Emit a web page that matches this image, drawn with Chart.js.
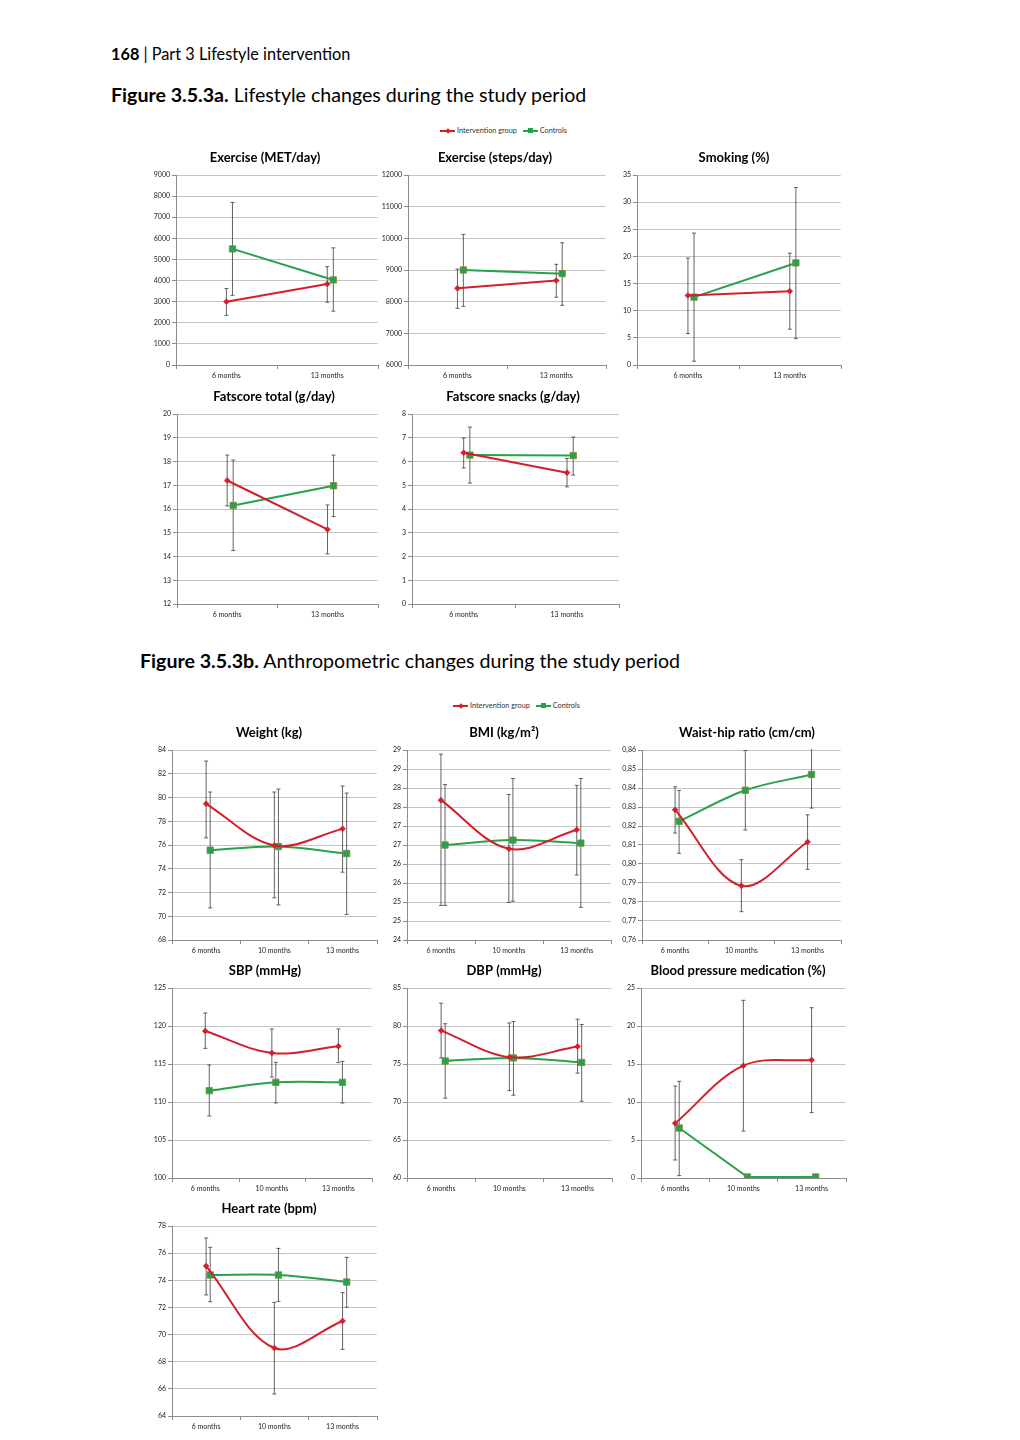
<!DOCTYPE html>
<html>
<head>
<meta charset="utf-8">
<script src="https://cdn.jsdelivr.net/npm/chart.js@4.4.1/dist/chart.umd.min.js"></script>
<style>
  body { margin: 0; background: #fff; }
  #page { position: relative; width: 1020px; height: 1440px; font-family: Lato, "Open Sans", sans-serif; color: #000; }
  .txt { position: absolute; white-space: nowrap; }
  .head { left: 111px; top: 44px; font-size: 16.3px; }
  .fig { font-size: 19.6px; }
  .legend { position: absolute; font-size: 7.3px; white-space: nowrap; color: #333; }
  .key { display: inline-block; position: relative; width: 15px; height: 2px; vertical-align: middle; margin: 0 2px 0 4px; }
  .key i { position: absolute; display: block; }
  .key.red { background: #d21f2b; }
  .key.red i { left: 5.5px; top: -1.5px; width: 4px; height: 4px; background: #d21f2b; transform: rotate(45deg); }
  .key.green { background: #27a24a; }
  .key.green i { left: 5px; top: -2px; width: 5px; height: 5px; background: #27a24a; }
  canvas { position: absolute; }
</style>
</head>
<body>
<div id="page">
  <div class="txt head"><b>168</b> | Part 3 Lifestyle intervention</div>
  <div class="txt fig" style="left:111px; top:83px"><b>Figure 3.5.3a.</b> Lifestyle changes during the study period</div>
  <div class="legend" style="left:436px; top:126px"><span class="key red"><i></i></span>Intervention group <span class="key green"><i></i></span>Controls</div>
  <div class="txt fig" style="left:140px; top:649px"><b>Figure 3.5.3b.</b> Anthropometric changes during the study period</div>
  <div class="legend" style="left:449px; top:701px"><span class="key red"><i></i></span>Intervention group <span class="key green"><i></i></span>Controls</div>
</div>
<script>
  // categories
  const monthsA = ["6 months", "13 months"];
  const monthsB = ["6 months", "10 months", "13 months"];

  // Figure 3.5.3a
  const metInt = [3000, 3840];
  const metIntLo = [2350, 2970];
  const metIntHi = [3620, 4660];
  const metCtl = [5500, 4030];
  const metCtlLo = [3300, 2550];
  const metCtlHi = [7700, 5550];

  const stepsInt = [8420, 8665];
  const stepsIntLo = [7790, 8140];
  const stepsIntHi = [9030, 9180];
  const stepsCtl = [9000, 8885];
  const stepsCtlLo = [7850, 7885];
  const stepsCtlHi = [10125, 9860];

  const smokInt = [12.8, 13.6];
  const smokIntLo = [5.8, 6.6];
  const smokIntHi = [19.7, 20.6];
  const smokCtl = [12.5, 18.8];
  const smokCtlLo = [0.7, 4.85];
  const smokCtlHi = [24.3, 32.7];

  const fatInt = [17.2, 15.14];
  const fatIntLo = [16.13, 14.11];
  const fatIntHi = [18.27, 16.17];
  const fatCtl = [16.15, 16.98];
  const fatCtlLo = [14.25, 15.68];
  const fatCtlHi = [18.06, 18.27];

  const snackInt = [6.37, 5.53];
  const snackIntLo = [5.73, 4.93];
  const snackIntHi = [6.99, 6.13];
  const snackCtl = [6.27, 6.25];
  const snackCtlLo = [5.09, 5.43];
  const snackCtlHi = [7.45, 7.03];

  // Figure 3.5.3b
  const wInt = [79.47, 75.96, 77.36];
  const wIntLo = [76.6, 71.55, 73.71];
  const wIntHi = [83.07, 80.46, 80.97];
  const wCtl = [75.56, 75.87, 75.28];
  const wCtlLo = [70.7, 70.95, 70.16];
  const wCtlHi = [80.46, 80.71, 80.37];

  const bmiInt = [27.68, 26.4, 26.9];
  const bmiIntLo = [24.91, 24.99, 25.71];
  const bmiIntHi = [28.89, 27.83, 28.07];
  const bmiCtl = [26.5, 26.63, 26.55];
  const bmiCtlLo = [24.91, 25.02, 24.86];
  const bmiCtlHi = [28.09, 28.25, 28.25];

  const whrInt = [0.8285, 0.7885, 0.8116];
  const whrIntLo = [0.8163, 0.7749, 0.7972];
  const whrIntHi = [0.8406, 0.8023, 0.8259];
  const whrCtl = [0.8224, 0.8388, 0.8471];
  const whrCtlLo = [0.8056, 0.8179, 0.8294];
  const whrCtlHi = [0.8387, 0.8597, 0.8648];

  const sbpInt = [119.34, 116.45, 117.32];
  const sbpIntLo = [117.06, 113.29, 115.18];
  const sbpIntHi = [121.71, 119.61, 119.61];
  const sbpCtl = [111.49, 112.59, 112.59];
  const sbpCtlLo = [108.16, 109.87, 109.87];
  const sbpCtlHi = [114.87, 115.22, 115.35];

  const dbpInt = [79.4, 75.9, 77.3];
  const dbpIntLo = [75.8, 71.5, 73.8];
  const dbpIntHi = [83.0, 80.4, 80.9];
  const dbpCtl = [75.4, 75.8, 75.2];
  const dbpCtlLo = [70.5, 70.9, 70.1];
  const dbpCtlHi = [80.3, 80.6, 80.2];

  const medInt = [7.19, 14.78, 15.53];
  const medIntLo = [2.37, 6.18, 8.6];
  const medIntHi = [12.1, 23.38, 22.41];
  const medCtl = [6.58, 0.13, 0.13];
  const medCtlLo = [0.31, 0.13, 0.13];
  const medCtlHi = [12.72, 0.13, 0.13];

  const hrInt = [75.05, 69.01, 71.0];
  const hrIntLo = [72.92, 65.62, 68.91];
  const hrIntHi = [77.12, 72.37, 73.09];
  const hrCtl = [74.39, 74.39, 73.87];
  const hrCtlLo = [72.42, 72.45, 72.01];
  const hrCtlHi = [76.43, 76.35, 75.69];

  const RED = "#d21f2b";
  const GREEN = "#27a24a";
  const FONT = "Lato, 'Open Sans', sans-serif";
  const Y_W = 40, TOP_H = 28, X_H = 20;

  const fmtInt = (v) => String(Math.round(v));
  const fmtComma = (v) => v.toFixed(2).replace(".", ",");

  // box = plot area on the page: left, top, right, bottom; tx = title centre
  const panels = [
    { title: "Exercise (MET/day)", cats: monthsA, box: [176, 175, 379, 365], tx: 265, y: [0, 9000, 1000],
      int: [metInt, metIntLo, metIntHi], ctl: [metCtl, metCtlLo, metCtlHi] },
    { title: "Exercise (steps/day)", cats: monthsA, box: [408, 175, 607, 365], tx: 495, y: [6000, 12000, 1000],
      int: [stepsInt, stepsIntLo, stepsIntHi], ctl: [stepsCtl, stepsCtlLo, stepsCtlHi] },
    { title: "Smoking (%)", cats: monthsA, box: [637, 175, 842, 365], tx: 734, y: [0, 35, 5],
      int: [smokInt, smokIntLo, smokIntHi], ctl: [smokCtl, smokCtlLo, smokCtlHi] },
    { title: "Fatscore total (g/day)", cats: monthsA, box: [177, 414, 379, 604], tx: 274, y: [12, 20, 1],
      int: [fatInt, fatIntLo, fatIntHi], ctl: [fatCtl, fatCtlLo, fatCtlHi] },
    { title: "Fatscore snacks (g/day)", cats: monthsA, box: [412, 414, 620, 604], tx: 513, y: [0, 8, 1],
      int: [snackInt, snackIntLo, snackIntHi], ctl: [snackCtl, snackCtlLo, snackCtlHi] },

    { title: "Weight (kg)", cats: monthsB, box: [172, 750, 378, 940], tx: 269, y: [68, 84, 2], smooth: true,
      int: [wInt, wIntLo, wIntHi], ctl: [wCtl, wCtlLo, wCtlHi] },
    { title: "BMI (kg/m²)", cats: monthsB, box: [407, 750, 612, 940], tx: 504, y: [24, 29, 0.5], smooth: true,
      int: [bmiInt, bmiIntLo, bmiIntHi], ctl: [bmiCtl, bmiCtlLo, bmiCtlHi] },
    { title: "Waist-hip ratio (cm/cm)", cats: monthsB, box: [642, 750, 842, 940], tx: 747, y: [0.76, 0.86, 0.01], smooth: true,
      fmt: fmtComma, int: [whrInt, whrIntLo, whrIntHi], ctl: [whrCtl, whrCtlLo, whrCtlHi] },
    { title: "SBP (mmHg)", cats: monthsB, box: [172, 988, 373, 1178], tx: 265, y: [100, 125, 5], smooth: true,
      int: [sbpInt, sbpIntLo, sbpIntHi], ctl: [sbpCtl, sbpCtlLo, sbpCtlHi] },
    { title: "DBP (mmHg)", cats: monthsB, box: [407, 988, 613, 1178], tx: 504, y: [60, 85, 5], smooth: true,
      int: [dbpInt, dbpIntLo, dbpIntHi], ctl: [dbpCtl, dbpCtlLo, dbpCtlHi] },
    { title: "Blood pressure medication (%)", cats: monthsB, box: [641, 988, 847, 1178], tx: 738, y: [0, 25, 5], smooth: true,
      ctlStraight: true, int: [medInt, medIntLo, medIntHi], ctl: [medCtl, medCtlLo, medCtlHi] },
    { title: "Heart rate (bpm)", cats: monthsB, box: [172, 1226, 378, 1416], tx: 269, y: [64, 78, 2], smooth: true,
      int: [hrInt, hrIntLo, hrIntHi], ctl: [hrCtl, hrCtlLo, hrCtlHi] },
  ];

  // error bars, category boundary ticks and the panel title
  const errorBars = {
    id: "errorBars",
    beforeDatasetsDraw(chart) {
      const { ctx, chartArea, scales } = chart;
      ctx.save();
      ctx.beginPath();
      ctx.rect(chartArea.left, chartArea.top - 1, chartArea.width, chartArea.height + 2);
      ctx.clip();
      ctx.strokeStyle = "#3c3c3c";
      ctx.lineWidth = 0.8;
      chart.data.datasets.forEach((ds) => {
        ds.data.forEach((p, i) => {
          if (ds.lo[i] === ds.hi[i]) return;
          const x = scales.x.getPixelForValue(p.x);
          const y1 = scales.y.getPixelForValue(ds.lo[i]);
          const y2 = scales.y.getPixelForValue(ds.hi[i]);
          ctx.beginPath();
          ctx.moveTo(x, y1); ctx.lineTo(x, y2);
          ctx.moveTo(x - 2, y1); ctx.lineTo(x + 2, y1);
          ctx.moveTo(x - 2, y2); ctx.lineTo(x + 2, y2);
          ctx.stroke();
        });
      });
      ctx.restore();
    },
    afterDraw(chart) {
      const { ctx, chartArea, scales } = chart;
      const o = chart.config.options.plugins.errorBars;
      ctx.save();
      ctx.strokeStyle = "#8c8c8c";
      ctx.lineWidth = 1;
      ctx.beginPath();
      for (let k = 0; k <= o.n; k++) {
        const x = Math.round(scales.x.getPixelForValue(k + 0.5)) + 0.5;
        ctx.moveTo(x, chartArea.bottom);
        ctx.lineTo(x, chartArea.bottom + 4);
      }
      ctx.stroke();
      ctx.fillStyle = "#000";
      ctx.font = "bold 13px " + FONT;
      ctx.textAlign = "center";
      ctx.textBaseline = "middle";
      ctx.fillText(o.title, o.titleX, chartArea.top - 17);
      ctx.restore();
    },
  };

  const pts = (vals, off) => vals.map((v, i) => ({ x: i + 1 + off, y: v }));

  function makePanel(p) {
    const n = p.cats.length;
    const canvas = document.createElement("canvas");
    const rPad = Math.max(4, 2 * (p.tx - p.box[2]) + 110);
    const W = p.box[2] - p.box[0] + Y_W + rPad;
    const H = p.box[3] - p.box[1] + TOP_H + X_H;
    canvas.width = W;
    canvas.height = H;
    canvas.style.width = W + "px";
    canvas.style.height = H + "px";
    canvas.style.left = p.box[0] - Y_W + "px";
    canvas.style.top = p.box[1] - TOP_H + "px";
    document.getElementById("page").appendChild(canvas);

    const tension = p.smooth ? 0.35 : 0;
    const fmt = p.fmt || fmtInt;

    new Chart(canvas, {
      type: "line",
      data: {
        datasets: [
          {
            label: "Intervention group",
            data: pts(p.int[0], 0),
            lo: p.int[1],
            hi: p.int[2],
            borderColor: RED,
            backgroundColor: RED,
            borderWidth: 2,
            pointStyle: "rectRot",
            pointRadius: 3,
            pointBorderWidth: 0.5,
            tension: tension,
          },
          {
            label: "Controls",
            data: pts(p.ctl[0], 0.06),
            lo: p.ctl[1],
            hi: p.ctl[2],
            borderColor: GREEN,
            backgroundColor: GREEN,
            borderWidth: 2,
            pointStyle: "rect",
            pointRadius: 4.5,
            pointBorderColor: "#7a8a45",
            pointBorderWidth: 0.8,
            tension: p.ctlStraight ? 0 : tension,
          },
        ],
      },
      options: {
        responsive: false,
        animation: false,
        events: [],
        layout: { padding: { left: 0, right: rPad, top: TOP_H, bottom: 0 } },
        plugins: {
          legend: { display: false },
          tooltip: { enabled: false },
          title: { display: false },
          errorBars: { n: n, title: p.title, titleX: p.tx - (p.box[0] - Y_W) },
        },
        scales: {
          x: {
            type: "linear",
            min: 0.5,
            max: n + 0.5,
            afterBuildTicks: (s) => { s.ticks = p.cats.map((c, i) => ({ value: i + 1 })); },
            afterFit: (s) => { s.height = X_H; },
            grid: { display: false, drawTicks: false },
            border: { display: true, color: "#8c8c8c", width: 1 },
            ticks: {
              autoSkip: false,
              maxRotation: 0,
              padding: 7,
              color: "#222",
              font: { family: FONT, size: 7 },
              callback: (v) => p.cats[Math.round(v) - 1],
            },
          },
          y: {
            min: p.y[0],
            max: p.y[1],
            afterFit: (s) => { s.width = Y_W; },
            grid: { color: "#c4c4c4", lineWidth: 1, tickLength: 4, tickColor: "#8c8c8c" },
            border: { display: true, color: "#8c8c8c", width: 1 },
            ticks: {
              stepSize: p.y[2],
              padding: 2,
              color: "#222",
              font: { family: FONT, size: 7 },
              callback: (v) => fmt(v),
            },
          },
        },
      },
      plugins: [errorBars],
    });
  }

  panels.forEach(makePanel);
</script>
</body>
</html>
